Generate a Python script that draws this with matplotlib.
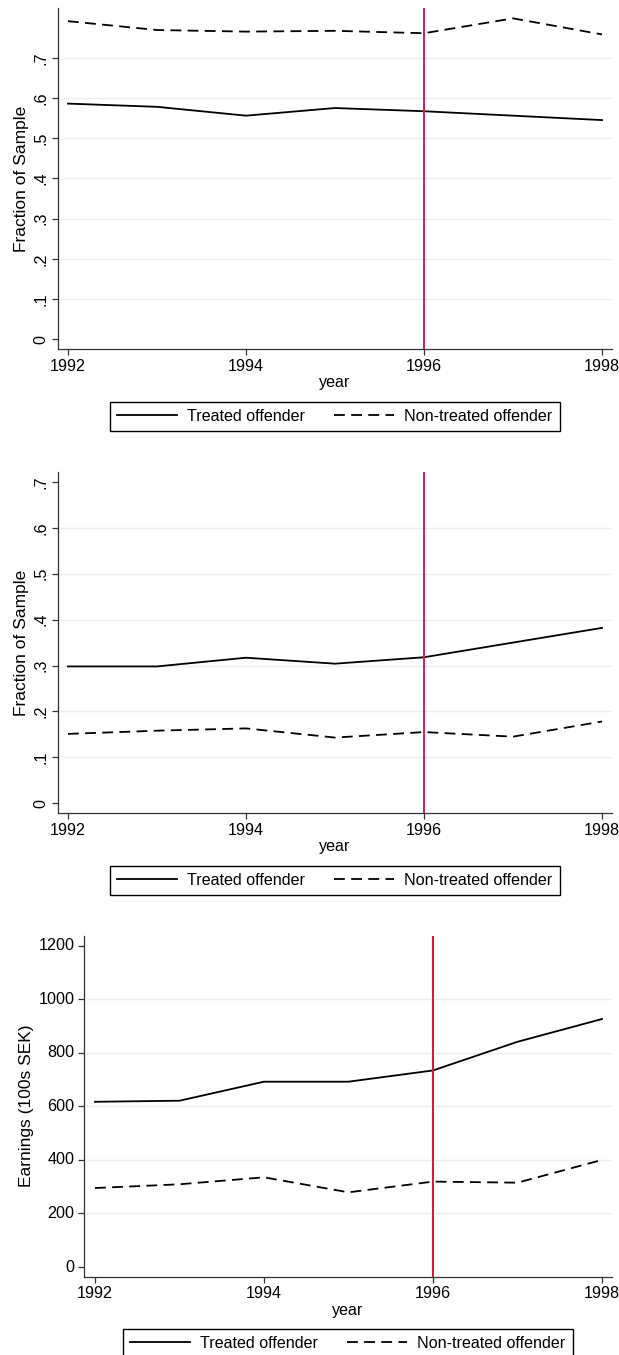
import matplotlib
matplotlib.use("Agg")
import matplotlib.pyplot as plt

plt.rcParams['font.family'] = ['Liberation Sans', 'DejaVu Sans']

# data
years = [1992, 1993, 1994, 1995, 1996, 1997, 1998]

# panel 1: fraction of sample
p1_treated = [0.586, 0.578, 0.556, 0.575, 0.567, 0.556, 0.545]
p1_control = [0.791, 0.769, 0.765, 0.767, 0.761, 0.798, 0.758]

# panel 2: fraction of sample
p2_treated = [0.298, 0.298, 0.317, 0.304, 0.318, 0.350, 0.382]
p2_control = [0.151, 0.158, 0.163, 0.143, 0.155, 0.145, 0.178]

# panel 3: earnings
p3_treated = [617, 621, 692, 692, 734, 841, 926]
p3_control = [295, 309, 335, 279, 319, 315, 400]

frac_ticks = [0, 0.1, 0.2, 0.3, 0.4, 0.5, 0.6, 0.7]
frac_labels = ['0', '.1', '.2', '.3', '.4', '.5', '.6', '.7']
earn_ticks = [0, 200, 400, 600, 800, 1000, 1200]
earn_labels = ['0', '200', '400', '600', '800', '1000', '1200']
year_ticks = [1992, 1994, 1996, 1998]

series_names = ['Treated offender', 'Non-treated offender']
cutoff_year = 1996

W, H = 619, 1355
fig = plt.figure(figsize=(W / 100, H / 100), dpi=100)

GRID = '#e8f0f1'
FS = 11.6


def make_panel(rect, treated, control, ylim, xlim, yticks, ylabels, grid_ticks,
               ylabel, rot, red, leg_center):
    ax = fig.add_axes(rect)
    for g in grid_ticks:
        ax.axhline(g, color=GRID, lw=1.0, zorder=0)
    l1, = ax.plot(years, treated, color='black', lw=1.3, label=series_names[0])
    l2, = ax.plot(years, control, color='black', lw=1.3, ls=(0, (6, 3.5)),
                  label=series_names[1])
    ax.axvline(cutoff_year, color=red, lw=1.4, zorder=3)
    ax.set_xlim(*xlim)
    ax.set_ylim(*ylim)
    ax.set_xticks(year_ticks)
    ax.set_yticks(yticks)
    ax.set_yticklabels(ylabels, rotation=rot, va='center')
    ax.tick_params(labelsize=FS, length=4, width=0.9, color='#333333', pad=3)
    for s in ['top', 'right']:
        ax.spines[s].set_visible(False)
    for s in ['left', 'bottom']:
        ax.spines[s].set_color('#333333')
        ax.spines[s].set_linewidth(0.9)
    ax.set_xlabel('year', fontsize=FS, labelpad=1)
    ax.set_ylabel(ylabel, fontsize=12.5, labelpad=3)
    fig.legend([l1, l2], series_names, loc='center', ncol=2,
               bbox_to_anchor=leg_center, bbox_transform=fig.transFigure,
               fontsize=FS, frameon=True, fancybox=False, edgecolor='black',
               handlelength=3.7, handletextpad=0.65, columnspacing=1.8,
               borderpad=0.45, framealpha=1)
    return ax


def rect(left, right, top, bottom):
    return [left / W, 1 - bottom / H, (right - left) / W, (bottom - top) / H]


make_panel(rect(58, 612, 8.3, 349.3), p1_treated, p1_control,
           (-0.025, 0.823), (1991.888, 1998.112), frac_ticks, frac_labels,
           frac_ticks[1:], 'Fraction of Sample', 90, '#d4204f',
           (335 / W, 1 - 416.5 / H))

make_panel(rect(58, 612, 472.3, 813.3), p2_treated, p2_control,
           (-0.022, 0.721), (1991.888, 1998.112), frac_ticks, frac_labels,
           frac_ticks[1:-1], 'Fraction of Sample', 90, '#d4204f',
           (335 / W, 1 - 880.5 / H))

make_panel(rect(84, 612, 935.7, 1276.7), p3_treated, p3_control,
           (-36, 1237), (1991.87, 1998.118), earn_ticks, earn_labels,
           earn_ticks[1:-1], 'Earnings (100s SEK)', 0, '#dc1237',
           (348 / W, 1 - 1343.5 / H))

fig.savefig('out.png', dpi=100)
